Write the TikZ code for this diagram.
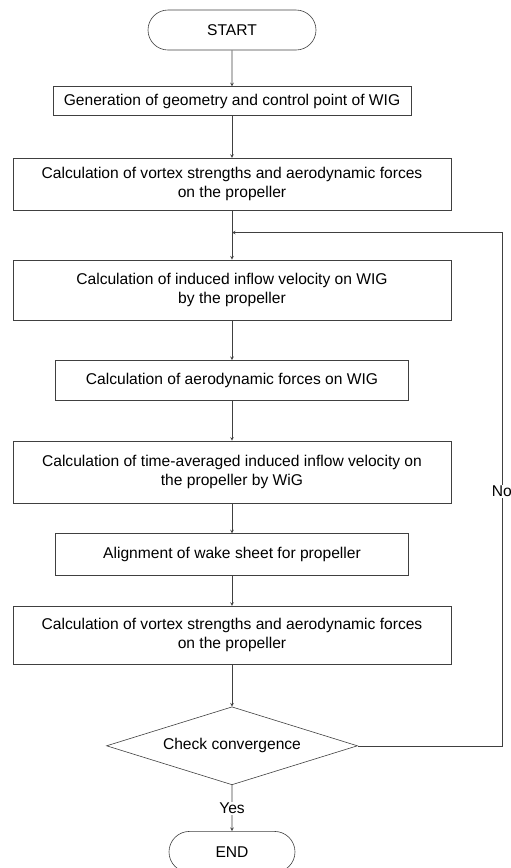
\documentclass[tikz,border=0pt]{standalone}
\usepackage{fontspec}
\setmainfont{Liberation Sans}
\usetikzlibrary{positioning,arrows}
\usetikzlibrary{shapes.geometric,shapes.misc}

\begin{document}
\begin{tikzpicture}[x=1pt,y=-1pt,
termnode/.style={rounded rectangle, draw=black!75, line width=.6pt, minimum width=168pt, minimum height=40pt, inner sep=0pt},
widebox/.style={rectangle, draw=black!75, line width=.6pt, minimum width=438pt, align=center, inner sep=0pt},
narrowbox/.style={rectangle, draw=black!75, line width=.6pt, minimum width=353pt, align=center, inner sep=0pt},
checknode/.style={diamond, draw=black!75, line width=.6pt, aspect=3.2, minimum width=251pt, minimum height=78pt, inner sep=0pt},
flow/.style={->,>=stealth,draw=black!75,line width=.6pt},
font=\fontsize{15.6}{18.5}\selectfont
]
\useasboundingbox (0,0) rectangle (511,868);
%Nodes
\node[termnode]  (start)                         at (232,30) {START};
\node[narrowbox, minimum width=358pt, minimum height=29pt] (geometry) [below=36pt of start] {Generation of geometry and control point of WIG};
\node[widebox, minimum height=52pt]  (calcprop)  [below=42pt of geometry]  {Calculation of vortex strengths and aerodynamic forces\\on the propeller};
\node[widebox, minimum height=60pt]  (inflow)    [below=49pt of calcprop]  {Calculation of induced inflow velocity on WIG\\by the propeller};
\node[narrowbox, minimum height=40pt] (wigforce) [below=40pt of inflow]    {Calculation of aerodynamic forces on WIG};
\node[widebox, minimum height=62pt]  (avginflow) [below=40pt of wigforce]  {Calculation of time-averaged induced inflow velocity on\\the propeller by WiG};
\node[narrowbox, minimum height=42pt] (wake)     [below=30pt of avginflow] {Alignment of wake sheet for propeller};
\node[widebox, minimum height=58pt]  (calcprop2) [below=30pt of wake]      {Calculation of vortex strengths and aerodynamic forces\\on the propeller};
\node[checknode] (check)                         [below=42pt of calcprop2] {Check convergence};
\node[termnode, minimum width=126pt, minimum height=41pt] (finish) [below=46pt of check] {END};
\coordinate[below=22pt of calcprop] (loopjoin);
\coordinate[right=144pt of check.east] (loopcorner);
%Lines
\draw[flow] (start) -- (geometry);
\draw[flow] (geometry) -- (calcprop);
\draw[flow] (calcprop) -- (inflow);
\draw[flow] (inflow) -- (wigforce);
\draw[flow] (wigforce) -- (avginflow);
\draw[flow] (avginflow) -- (wake);
\draw[flow] (wake) -- (calcprop2);
\draw[flow] (calcprop2) -- (check);
\draw[flow] (check) -- node[fill=white, inner sep=1pt] {Yes} (finish);
\draw[flow] (check.east) -- (loopcorner) |- node[pos=.248, fill=white, inner sep=1pt] {No} (loopjoin);
\end{tikzpicture}
\end{document}
